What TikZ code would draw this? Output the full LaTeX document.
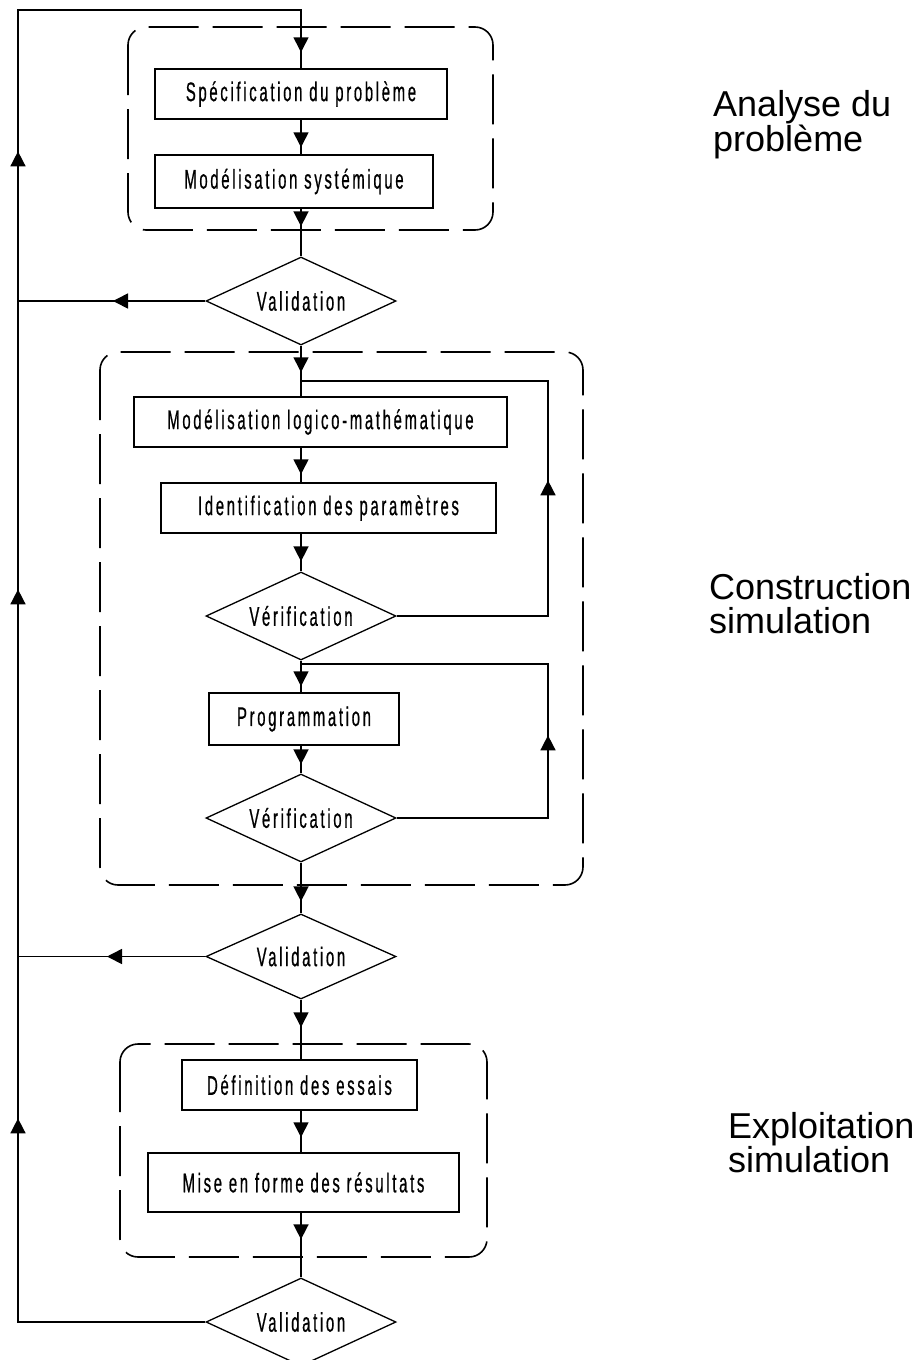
\documentclass[tikz,border=0pt]{standalone}
\usepackage{fontspec}
\setmainfont{Liberation Sans}
\newfontfamily\stepfont[FakeStretch=0.55,LetterSpace=10,FakeBold=0.6]{Liberation Sans}
\usetikzlibrary{shapes.geometric,arrows.meta,decorations.markings}

% filled arrow head placed along a connector
\newcommand\flowhead{\arrow{Triangle[width=15pt,length=15pt]}}

\begin{document}
\begin{tikzpicture}[x=1pt,y=-1pt,
  stepbox/.style={draw, rectangle, line width=1.5pt, inner sep=0pt,
    font=\stepfont\fontsize{27}{29}\selectfont},
  testbox/.style={draw, diamond, aspect=2.4, line width=1.3pt, inner sep=0pt,
    minimum width=190pt, minimum height=88pt,
    font=\stepfont\fontsize{27}{29}\selectfont},
  phase/.style={draw, line width=1.6pt, dash pattern=on 50pt off 14pt,
    rounded corners=18pt},
  flow/.style={line width=1.6pt},
  tipat/.style={postaction={decorate},
    decoration={markings, mark=at position #1 with {\flowhead}}},
  phaselabel/.style={anchor=base west, inner sep=0pt,
    font=\fontsize{36}{36}\selectfont}
]
\useasboundingbox (0,0) rectangle (922,1360);

% phase frames
\draw[phase] (128,27) rectangle (493,230);
\draw[phase] (100,352) rectangle (583,885);
\draw[phase] (120,1044) rectangle (487,1257);

% steps
\node[stepbox, minimum width=292pt, minimum height=50pt] (spec) at (301,94) {Spécification du problème};
\node[stepbox, minimum width=278pt, minimum height=53pt] (modsys) at (294,181.5) {Modélisation systémique};
\node[testbox] (val1) at (301,301) {Validation};

\node[stepbox, minimum width=373pt, minimum height=50pt] (modlm) at (320.5,422) {Modélisation logico-mathématique};
\node[stepbox, minimum width=335pt, minimum height=50pt] (ident) at (328.5,508) {Identification des paramètres};
\node[testbox] (verif1) at (301,616) {Vérification};
\node[stepbox, minimum width=190pt, minimum height=52pt] (prog) at (304,719) {Programmation};
\node[testbox] (verif2) at (301,818) {Vérification};

\node[testbox, minimum height=85pt] (val2) at (301,956.5) {Validation};
\node[stepbox, minimum width=235pt, minimum height=50pt] (def) at (299.5,1085) {Définition des essais};
\node[stepbox, minimum width=311pt, minimum height=59pt] (mise) at (303.5,1182.5) {Mise en forme des résultats};
\node[testbox] (val3) at (301,1322) {Validation};

% turning points of the return paths
\coordinate (railbot) at (18,1322);
\coordinate (railtop) at (18,10);
\coordinate (topturn) at (301,10);
\coordinate (rail1) at (18,301);
\coordinate (rail2) at (18,956.5);
\coordinate (loopAb) at (548,616);
\coordinate (loopAt) at (548,381);
\coordinate (loopBb) at (548,818);
\coordinate (loopBt) at (548,664);

% main descending flow
\draw[flow, tipat=-7pt] (spec.south) -- (spec.south |- modsys.north);
\draw[flow, tipat=-30pt] (val1 |- modsys.south) -- (val1.north);
\draw[flow, tipat=-24pt] (val1.south) -- (val1 |- modlm.north);
\draw[flow, tipat=-8pt] (val1 |- modlm.south) -- (val1 |- ident.north);
\draw[flow, tipat=-10pt] (val1 |- ident.south) -- (verif1.north);
\draw[flow, tipat=-6pt] (verif1.south) -- (val1 |- prog.north);
\draw[flow, tipat=-9pt] (val1 |- prog.south) -- (verif2.north);
\draw[flow, tipat=-12pt] (verif2.south) -- (val2.north);
\draw[flow, tipat=-32pt] (val2.south) -- (val1 |- def.north);
\draw[flow, tipat=-15pt] (val1 |- def.south) -- (val1 |- mise.north);
\draw[flow, tipat=-38pt] (val1 |- mise.south) -- (val3.north);

% verification loops
\draw[flow, tipat=287pt] (verif1.east) -- (loopAb) -- (loopAt) -- (loopAt -| val1);
\draw[flow, tipat=234pt] (verif2.east) -- (loopBb) -- (loopBt) -- (loopBt -| val1);

% validation returns
\draw[flow, tipat=-95pt] (val1.west) -- (rail1);
\draw[flow, tipat=-89pt] (val2.west) -- (rail2);
\draw[flow, postaction={decorate}, decoration={markings,
    mark=at position 391pt with {\flowhead},
    mark=at position 920pt with {\flowhead},
    mark=at position 1358pt with {\flowhead},
    mark=at position -16pt with {\flowhead}}]
  (val3.west) -- (railbot) -- (railtop) -- (topturn) -- (spec.north);

% phase names
\node[phaselabel] (lblA1) at (713,116) {Analyse du};
\node[phaselabel] (lblA2) at (713,151) {problème};
\node[phaselabel] (lblB1) at (709,599) {Construction};
\node[phaselabel] (lblB2) at (709,633) {simulation};
\node[phaselabel] (lblC1) at (728,1138) {Exploitation};
\node[phaselabel] (lblC2) at (728,1172) {simulation};
\end{tikzpicture}
\end{document}
